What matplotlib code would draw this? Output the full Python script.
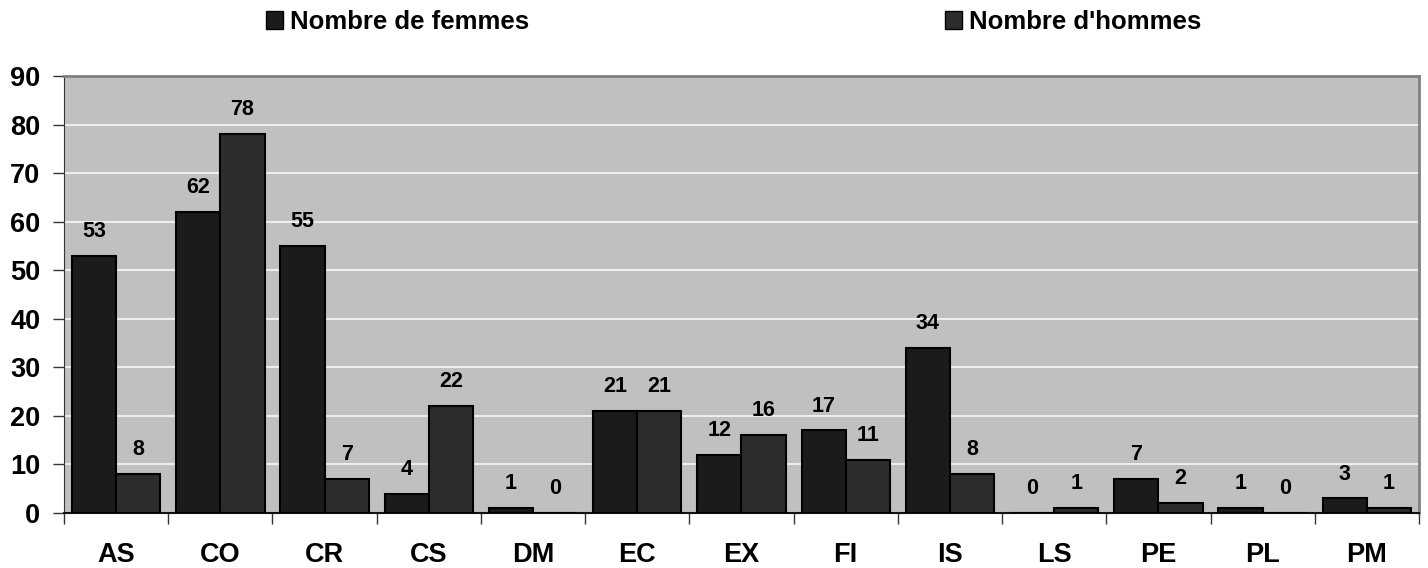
import matplotlib
matplotlib.use("Agg")
import matplotlib.pyplot as plt
import numpy as np
from matplotlib.patches import Patch

categories = ["AS", "CO", "CR", "CS", "DM", "EC", "EX", "FI", "IS", "LS", "PE", "PL", "PM"]
femmes = [53, 62, 55, 4, 1, 21, 12, 17, 34, 0, 7, 1, 3]
hommes = [8, 78, 7, 22, 0, 21, 16, 11, 8, 1, 2, 0, 1]
series_names = ["Nombre de femmes", "Nombre d'hommes"]
y_ticks = [0, 10, 20, 30, 40, 50, 60, 70, 80, 90]

plt.rcParams['font.family'] = ['Liberation Sans', 'DejaVu Sans']
plt.rcParams['font.weight'] = 'bold'

fig = plt.figure(figsize=(14.28, 5.68), dpi=100)
ax = fig.add_axes([64/1428, 55/568, (1419-64)/1428, (513-76)/568])
ax.set_facecolor('#C0C0C0')

x = np.arange(len(categories))
w = 0.424
c_f = '#1b1b1b'
c_h = '#2c2c2c'
bf = ax.bar(x - w/2, femmes, w, color=c_f, edgecolor='black', linewidth=1.5, zorder=3)
bh = ax.bar(x + w/2, hommes, w, color=c_h, edgecolor='black', linewidth=1.5, zorder=3)

for bars, vals in ((bf, femmes), (bh, hommes)):
    for b, v in zip(bars, vals):
        ax.annotate(str(v), (b.get_x() + b.get_width()/2, v), xytext=(0, 10),
                    textcoords='offset points', ha='center', va='bottom',
                    fontsize=15.5, fontweight='bold', zorder=4)

ax.set_xlim(-0.5, len(categories) - 0.5)
ax.set_ylim(0, 90)
ax.set_yticks(y_ticks)
ax.set_yticklabels([str(t) for t in y_ticks], fontsize=19.5, fontweight='bold')
ax.yaxis.grid(True, color='#EEEEEE', linewidth=1.5, zorder=1)

ax.set_xticks(np.arange(len(categories) + 1) - 0.5)
ax.set_xticklabels([])
ax.set_xticks(x, minor=True)
ax.set_xticklabels(categories, minor=True, fontsize=19.5, fontweight='bold')
ax.tick_params(axis='x', which='minor', length=0, pad=21)
ax.tick_params(axis='x', which='major', length=8, width=1, color='#333333')
ax.tick_params(axis='y', length=8, width=1, color='#333333', pad=9)

for s in ('top', 'right'):
    ax.spines[s].set_color('#808080')
    ax.spines[s].set_linewidth(2)
ax.spines['left'].set_color('#333333')
ax.spines['bottom'].set_color('#111111')
ax.spines['bottom'].set_linewidth(1.5)

for name, col, xpos in ((series_names[0], c_f, 266/1428), (series_names[1], c_h, 945/1428)):
    fig.legend(handles=[Patch(facecolor=col, edgecolor='black', linewidth=1)], labels=[name],
               loc='center left', bbox_to_anchor=(xpos, 1 - 22/568), frameon=False,
               handlelength=0.65, handleheight=0.65, handletextpad=0.3,
               borderaxespad=0, borderpad=0,
               prop={'size': 18.5, 'weight': 'bold', 'family': 'Liberation Sans'})

fig.savefig('out.png', dpi=100)
